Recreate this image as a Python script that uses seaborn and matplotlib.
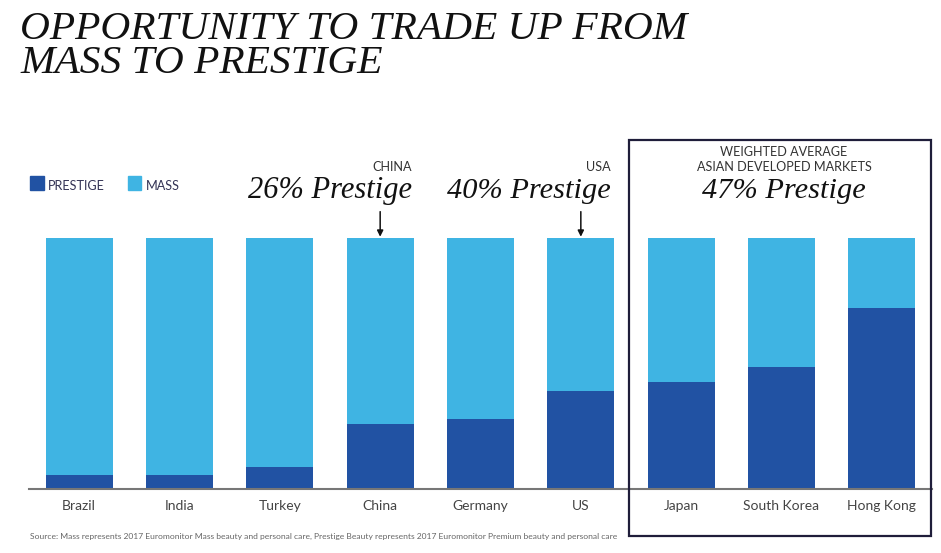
import matplotlib
matplotlib.use("Agg")
import matplotlib.pyplot as plt
import seaborn as sns
import pandas as pd
from matplotlib.patches import Rectangle

# ---- data ----
countries = ["Brazil", "India", "Turkey", "China", "Germany", "US",
             "Japan", "South Korea", "Hong Kong"]
prestige = [5.7, 5.7, 8.7, 26, 28, 39, 42.5, 48.5, 72]
mass = [100 - p for p in prestige]
total = [p + m for p, m in zip(prestige, mass)]

title_lines = ["OPPORTUNITY TO TRADE UP FROM", "MASS TO PRESTIGE"]
legend_labels = ["PRESTIGE", "MASS"]
source_text = ("Source: Mass represents 2017 Euromonitor Mass beauty and personal care, "
               "Prestige Beauty represents 2017 Euromonitor Premium beauty and personal care")

C_PRESTIGE = "#2152A3"
C_MASS = "#3FB4E3"
W, H = 941, 553

sns.set_theme(style="white")
plt.rcParams["font.family"] = ["Lato", "DejaVu Sans"]

fig = plt.figure(figsize=(W / 100, H / 100), dpi=100)
ax = fig.add_axes([29 / W, 1 - 489 / H, 903 / W, (489 - 238) / H])

df = pd.DataFrame({"country": countries, "prestige": prestige, "total": total})
sns.barplot(data=df, x="country", y="total", color=C_MASS, saturation=1,
            width=0.667, ax=ax, order=countries, linewidth=0, edgecolor="none")
sns.barplot(data=df, x="country", y="prestige", color=C_PRESTIGE, saturation=1,
            width=0.667, ax=ax, order=countries, linewidth=0, edgecolor="none")

ax.set_xlim(-0.5, 8.5)
ax.set_ylim(0, 100)
ax.set_xlabel("")
ax.set_ylabel("")
ax.set_yticks([])
for s in ["top", "left", "right"]:
    ax.spines[s].set_visible(False)
ax.spines["bottom"].set_color("#777777")
ax.spines["bottom"].set_linewidth(1.5)
ax.tick_params(axis="x", length=0, pad=8, labelsize=10, labelcolor="#444444")

def fpos(x, y):
    return x / W, 1 - y / H

renderer = fig.canvas.get_renderer()

def fit(t, target_w):
    bb = t.get_window_extent(renderer)
    t.set_fontsize(t.get_fontsize() * target_w / bb.width)

serif_it = dict(family=["Liberation Serif", "DejaVu Serif"], style="italic", color="#111111")

# title
t1 = fig.text(*fpos(20, 39), title_lines[0], ha="left", va="baseline", fontsize=30, **serif_it)
fit(t1, 665)
fs = t1.get_fontsize()
t2 = fig.text(*fpos(20, 73), title_lines[1], ha="left", va="baseline", fontsize=fs, **serif_it)

# legend
fig.patches.append(Rectangle(fpos(30, 190), 13.5 / W, 14 / H, transform=fig.transFigure,
                             color=C_PRESTIGE))
fig.patches.append(Rectangle(fpos(128, 190), 13.5 / W, 14 / H, transform=fig.transFigure,
                             color=C_MASS))
lt1 = fig.text(*fpos(48, 189.5), legend_labels[0], ha="left", va="baseline",
               fontsize=9, color="#333355")
fit(lt1, 57)
lt2 = fig.text(*fpos(146, 189.5), legend_labels[1], ha="left", va="baseline",
               fontsize=lt1.get_fontsize(), color="#333355")

# callouts
a3 = fig.text(*fpos(784, 171), "ASIAN DEVELOPED MARKETS", ha="center", va="baseline",
              fontsize=8.5, color="#333333")
fit(a3, 174)
small = dict(fontsize=a3.get_fontsize(), color="#333333")
fig.text(*fpos(784, 156), "WEIGHTED AVERAGE", ha="center", va="baseline", **small)
fig.text(*fpos(412, 171), "CHINA", ha="right", va="baseline", **small)
fig.text(*fpos(611, 171), "USA", ha="right", va="baseline", **small)

c1 = fig.text(*fpos(412, 198), "26% Prestige", ha="right", va="baseline", fontsize=22, **serif_it)
fit(c1, 164)
c2 = fig.text(*fpos(611, 198), "40% Prestige", ha="right", va="baseline", fontsize=22, **serif_it)
fit(c2, 163)
c3 = fig.text(*fpos(784, 198), "47% Prestige", ha="center", va="baseline", fontsize=22, **serif_it)
fit(c3, 163)

for i in (3, 5):
    ax.annotate("", xy=(i, 100.5), xytext=(i, 110.5), xycoords="data",
                arrowprops=dict(arrowstyle="-|>", color="#111111", lw=1.1,
                                mutation_scale=9, shrinkA=0, shrinkB=0),
                annotation_clip=False)

# box around Asian developed markets
fig.patches.append(Rectangle(fpos(629, 536), (931 - 629) / W, (536 - 140) / H,
                             transform=fig.transFigure, fill=False,
                             edgecolor="#1f1d3a", linewidth=1.6))

# source
st = fig.text(*fpos(30, 539), source_text, ha="left", va="baseline", fontsize=6, color="#666666")
fit(st, 590)

fig.savefig("out.png", dpi=100)
